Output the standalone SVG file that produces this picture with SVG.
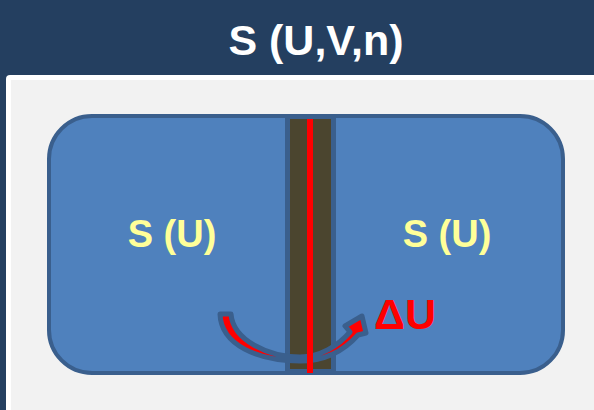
<svg xmlns="http://www.w3.org/2000/svg" width="594" height="410" viewBox="0 0 594 410">
<style>
.title{font-family:"Liberation Sans",Arial,sans-serif;font-weight:bold;fill:#FFFFFF;font-size:43px;text-anchor:middle}
.lbl{font-family:"Liberation Sans",Arial,sans-serif;font-weight:bold;fill:#FFFF99;font-size:38px;text-anchor:middle}
.du{font-family:"Liberation Sans",Arial,sans-serif;font-weight:bold;fill:#FF0000;font-size:43px}
.edge{stroke:#3A5F8D;stroke-width:5}
</style>
<rect x="0" y="0" width="594" height="410" fill="#243F60"/>
<text class="title" x="316" y="55">S (U,V,n)</text>
<rect x="6" y="75" width="600" height="400" rx="4" fill="#FFFFFF"/>
<rect x="11" y="80" width="600" height="400" fill="#F2F2F2"/>
<g id="container">
<rect x="49" y="116" width="514" height="257" rx="43" fill="#4F81BD" stroke="#3A5F8D" stroke-width="4"/>
</g>
<g id="wall">
<rect x="287.5" y="116.5" width="46" height="255" fill="#4B452F" class="edge"/>
</g>
<g id="left">
<text class="lbl" x="172" y="247">S (U)</text>
</g>
<g id="right">
<text class="lbl" x="447" y="247">S (U)</text>
</g>
<g id="connectors">
<path d="M220,314 L231,314 C 233,340 268,357 300,357 C 320,357 338,346 350,332 L345,326 L362,316 L366,333 L358,335 C 342,353 322,361 300,361 C 258,361 221,345 220,314 Z" fill="#FF0000" stroke="#3A5F8D" stroke-width="5" stroke-linejoin="round"/>
<line x1="310" y1="119" x2="310" y2="373" stroke="#FF0000" stroke-width="6"/>
</g>
<text class="du" x="374" y="329">ΔU</text>
</svg>
